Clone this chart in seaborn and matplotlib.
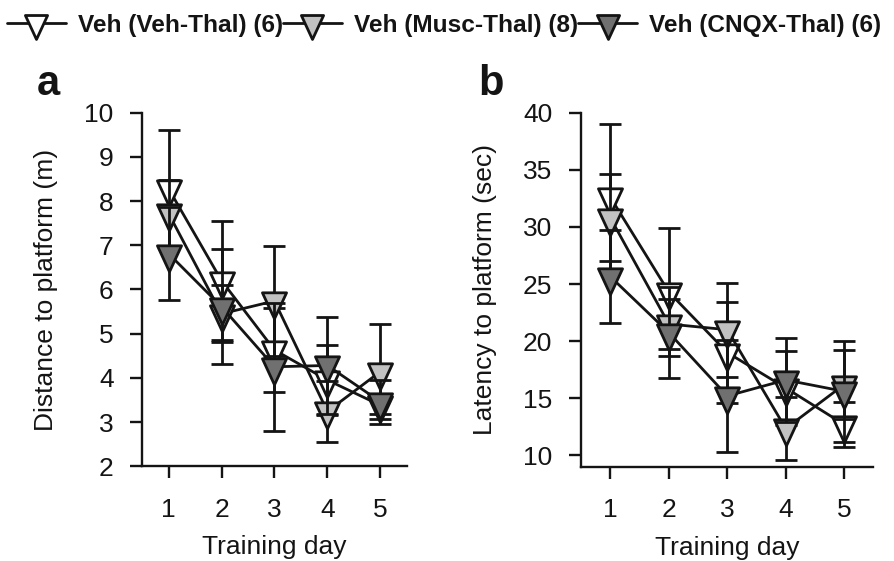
import numpy as np
import pandas as pd
import matplotlib
matplotlib.use("Agg")
import matplotlib.pyplot as plt
from matplotlib.path import Path
from matplotlib.markers import MarkerStyle
import seaborn as sns

days = [1, 2, 3, 4, 5]
groups = ["Veh (Veh-Thal) (6)", "Veh (Musc-Thal) (8)", "Veh (CNQX-Thal) (6)"]
fills = ["white", "#c2c2c2", "#707070"]

# distance to platform (m), mean and sem
dist_veh = [8.28, 6.2, 4.63, 3.95, 3.38]
dist_veh_err = [1.32, 1.34, 0.95, 0.8, 0.2]
dist_musc = [7.72, 5.45, 5.74, 3.24, 4.14]
dist_musc_err = [0.75, 0.65, 1.25, 0.69, 1.07]
dist_cnqx = [6.81, 5.61, 4.25, 4.28, 3.46]
dist_cnqx_err = [1.05, 1.3, 1.45, 1.1, 0.5]

# latency to platform (sec), mean and sem
lat_veh = [32.6, 24.3, 19.0, 15.9, 12.7]
lat_veh_err = [6.4, 5.6, 4.4, 3.2, 2.0]
lat_musc = [30.8, 21.5, 21.0, 12.35, 16.2]
lat_musc_err = [3.8, 2.2, 4.1, 2.75, 3.0]
lat_cnqx = [25.65, 20.75, 15.2, 16.6, 15.6]
lat_cnqx_err = [4.05, 3.95, 4.9, 3.7, 4.45]

sns.set_style("ticks")
plt.rcParams["font.family"] = ["Liberation Sans", "DejaVu Sans"]

ink = "#141414"

# down triangle with its centroid on the data point
tri = MarkerStyle(Path([(-1, 0.72), (1, 0.72), (0, -1.44), (-1, 0.72)],
                       [Path.MOVETO, Path.LINETO, Path.LINETO, Path.CLOSEPOLY]))

fig = plt.figure(figsize=(8.94, 5.61), dpi=100)
ax1 = fig.add_axes([0.159, 0.169, 0.296, 0.630])
ax2 = fig.add_axes([0.650, 0.168, 0.327, 0.631])

panels = [
    (ax1, [dist_veh, dist_musc, dist_cnqx], [dist_veh_err, dist_musc_err, dist_cnqx_err],
     "Distance to platform (m)", (2, 10), np.arange(2, 11, 1)),
    (ax2, [lat_veh, lat_musc, lat_cnqx], [lat_veh_err, lat_musc_err, lat_cnqx_err],
     "Latency to platform (sec)", (9, 40), np.arange(10, 41, 5)),
]

handles = []
for ax, means, errs, ylab, ylim, yticks in panels:
    for i, (m, e) in enumerate(zip(means, errs)):
        df = pd.DataFrame({"day": days, "value": m})
        ax.errorbar(days, m, yerr=e, fmt="none", ecolor=ink,
                    elinewidth=2.0, capsize=8, capthick=2.0, zorder=2 + i)
        sns.lineplot(data=df, x="day", y="value", ax=ax, color=ink,
                     lw=2.0, marker=tri, markersize=25, markerfacecolor=fills[i],
                     markeredgecolor=ink, markeredgewidth=2.0,
                     errorbar=None, zorder=2.5 + i)
        if ax is ax1:
            handles.append(ax.lines[-1])
    ax.set_xlim(0.5, 5.5)
    ax.set_ylim(*ylim)
    ax.set_xticks(days)
    ax.set_yticks(yticks)
    ax.set_xlabel("Training day", fontsize=19, labelpad=10, color=ink)
    ax.set_ylabel(ylab, fontsize=19, labelpad=19, color=ink)
    ax.tick_params(axis="both", labelsize=19, length=8.6, width=1.7,
                   color=ink, labelcolor=ink, direction="out")
    ax.tick_params(axis="y", pad=12)
    ax.tick_params(axis="x", pad=14)
    for s in ["top", "right"]:
        ax.spines[s].set_visible(False)
    for s in ["left", "bottom"]:
        ax.spines[s].set_linewidth(1.7)
        ax.spines[s].set_color(ink)

fig.text(37 / 894, 1 - 95 / 561, "a", fontsize=30, fontweight="bold", va="baseline", color=ink)
fig.text(478 / 894, 1 - 95 / 561, "b", fontsize=30, fontweight="bold", va="baseline", color=ink)

fig.legend(handles, groups, loc="center left", bbox_to_anchor=(0.008, 0.955),
           ncol=3, frameon=False, borderpad=0, borderaxespad=0,
           handlelength=2.4, handletextpad=0.5, columnspacing=0.0,
           markerscale=0.92, labelcolor=ink, prop={"weight": "bold", "size": 17.6})

fig.savefig("out.png", dpi=100)
